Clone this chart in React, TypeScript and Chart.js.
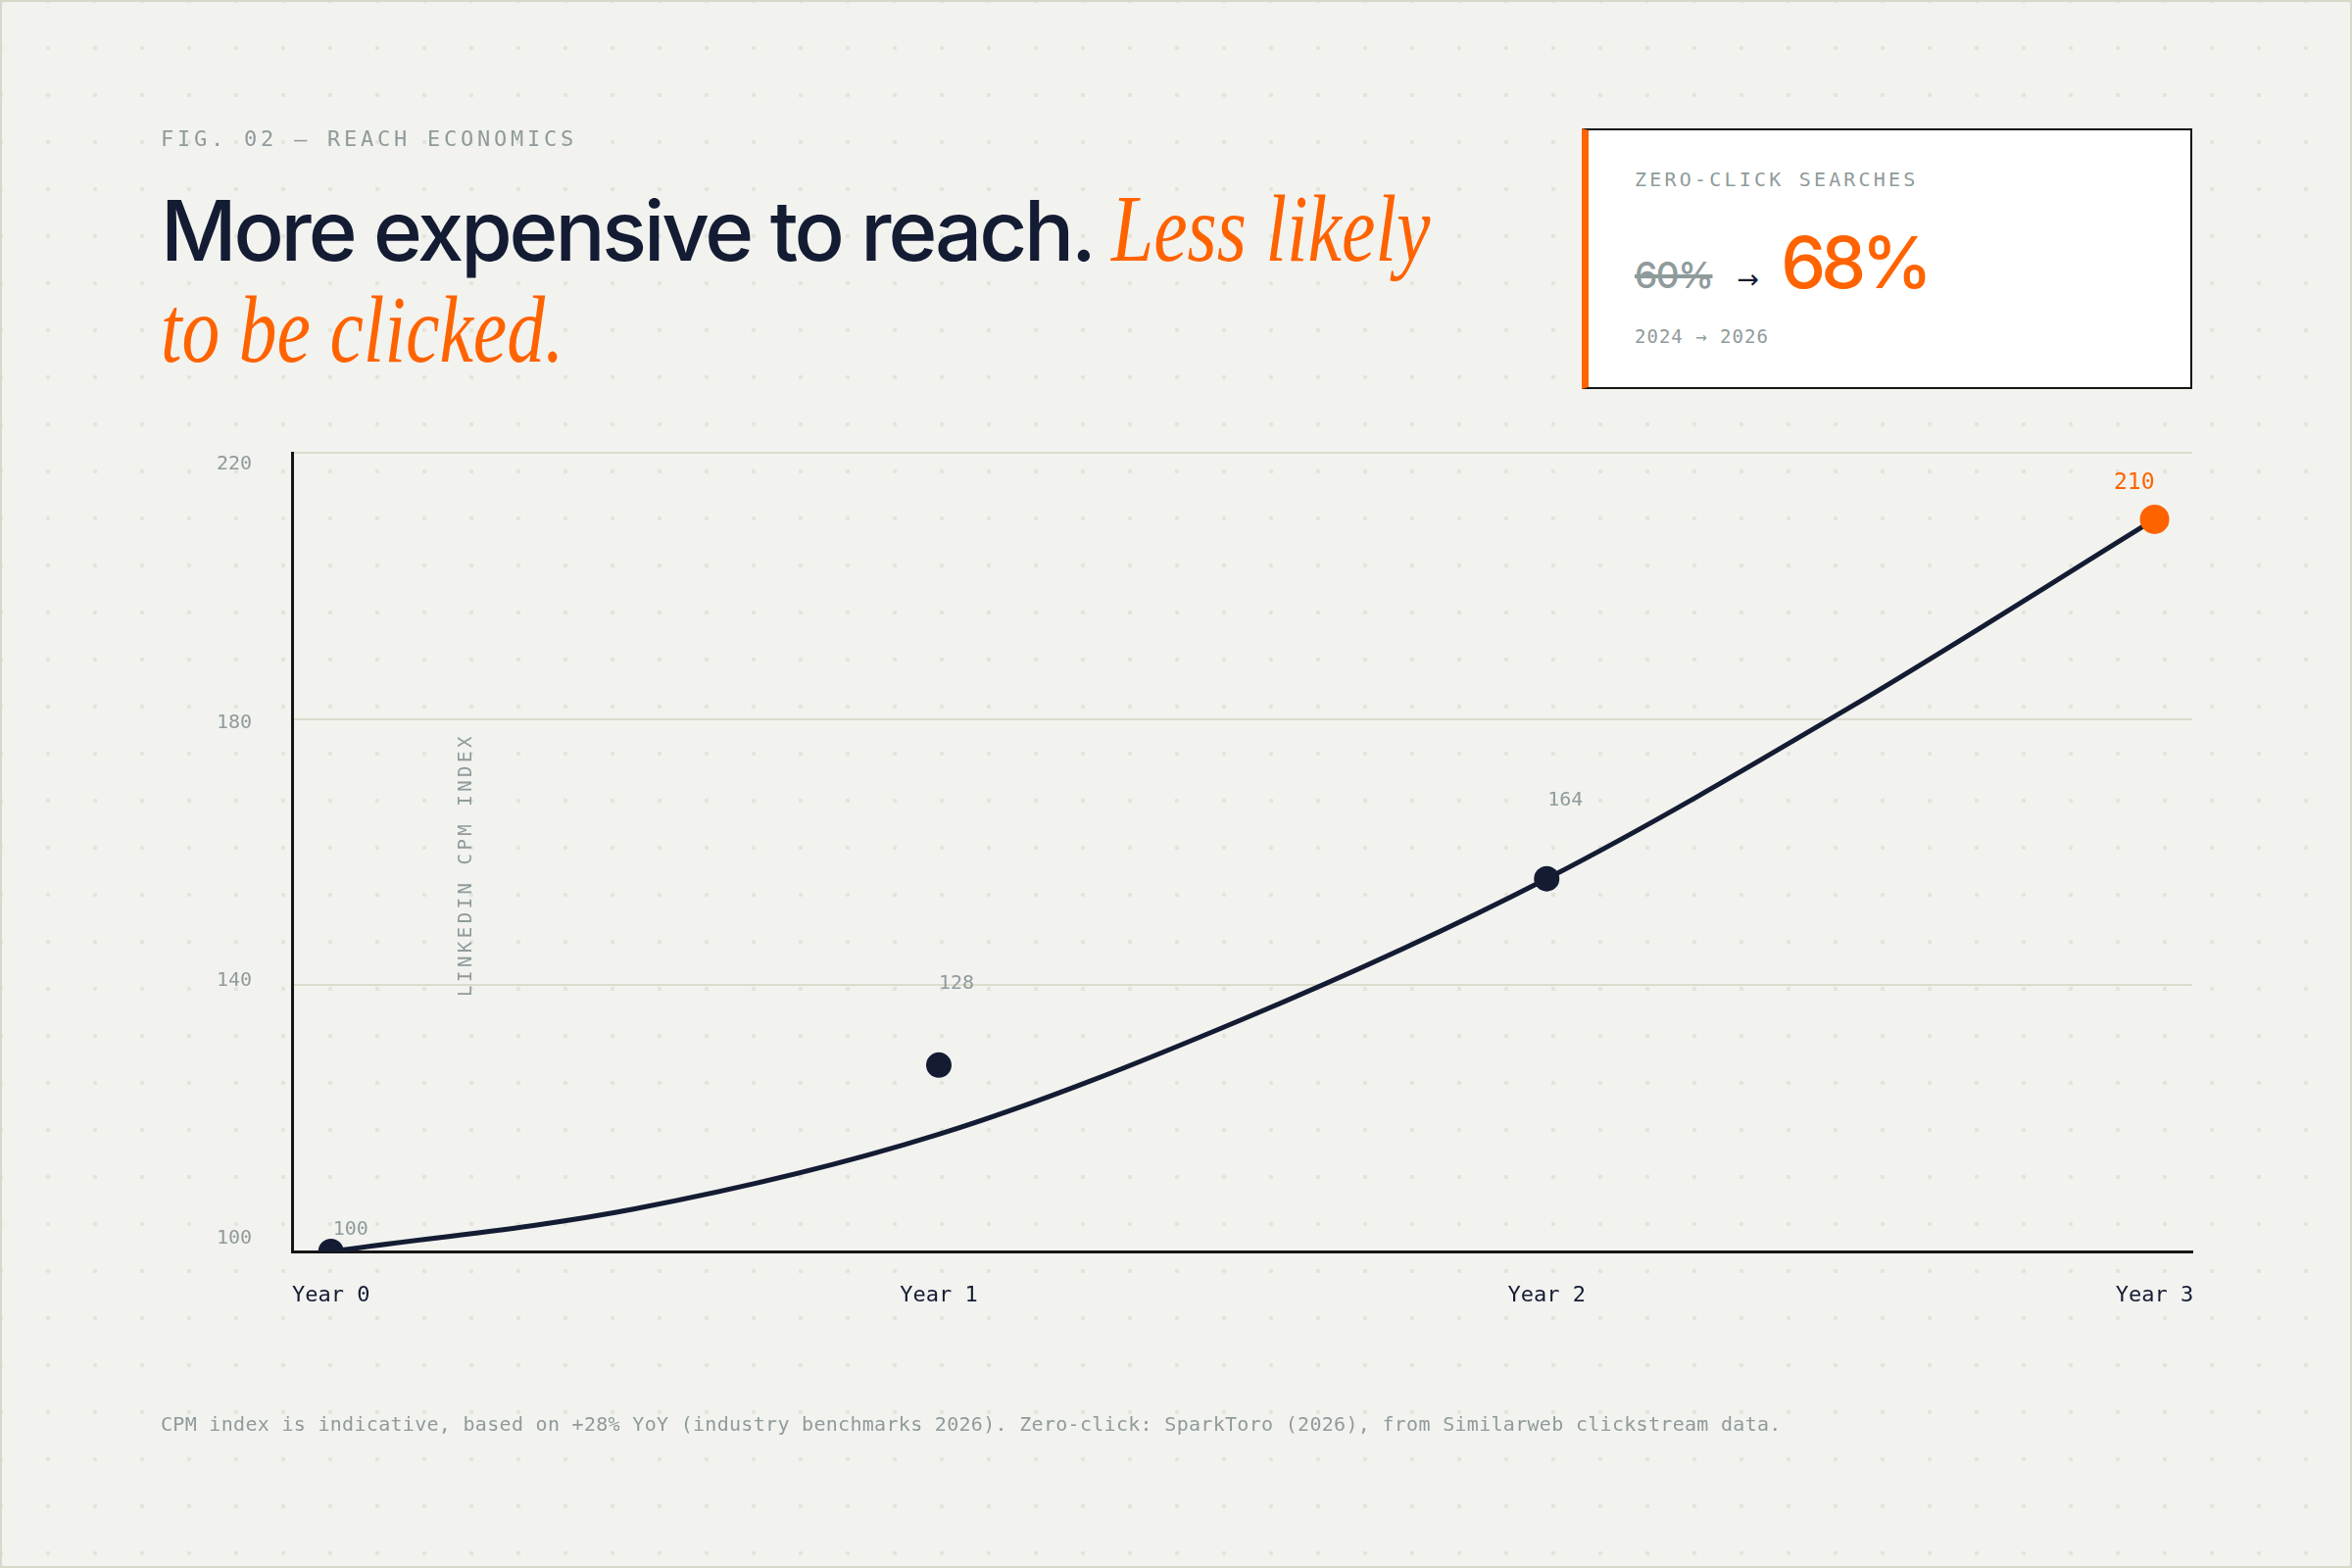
import React, { useEffect, useRef } from "react";
import { Chart, registerables } from "chart.js";

Chart.register(...registerables);

// ---- data ----
const categories = ["Year 0", "Year 1", "Year 2", "Year 3"];
const pointValues = [100, 128, 156, 210];
const pointLabels = ["100", "128", "164", "210"];
// line at half-year steps
const curveX = [0, 0.5, 1, 1.5, 2, 2.5, 3];
const curveValues = [100, 106.4, 117.6, 134.9, 156, 181.8, 210];
const yTicks = [100, 140, 180, 220];

// ---- style ----
const NAVY = "#141c33";
const ORANGE = "#ff6300";
const GRAY = "#8f9b9b";
const GRID = "#dcdccd";
const AXIS = "#161616";
const BG = "#f2f2ef";
const MONO = '"DejaVu Sans Mono", monospace';
const SANS = 'Inter, "Noto Sans", sans-serif';
const SERIF = '"Liberation Serif", serif';

const labelOffsets = [
  { dx: 2, dy: -22, align: "left" },
  { dx: 0, dy: -83, align: "left" },
  { dx: 1, dy: -80, align: "left" },
  { dx: 0, dy: -37, align: "right" },
];

const overlayPlugin = {
  id: "overlay",
  afterDatasetsDraw(chart: any) {
    const { ctx, chartArea } = chart;
    const meta = chart.getDatasetMeta(0);
    meta.data.forEach((pt: any, i: number) => {
      const o = labelOffsets[i];
      const last = i === pointLabels.length - 1;
      ctx.save();
      ctx.font = `400 ${last ? 23 : 20}px ${MONO}`;
      ctx.fillStyle = last ? ORANGE : GRAY;
      ctx.textAlign = o.align;
      ctx.textBaseline = "middle";
      ctx.fillText(pointLabels[i], pt.x + o.dx, pt.y + o.dy);
      ctx.restore();
    });
    ctx.save();
    ctx.translate(chartArea.left + 178, chartArea.bottom - 260);
    ctx.rotate(-Math.PI / 2);
    ctx.font = `400 19px ${MONO}`;
    (ctx as any).letterSpacing = "3.5px";
    ctx.fillStyle = GRAY;
    ctx.textAlign = "left";
    ctx.textBaseline = "middle";
    ctx.fillText("LINKEDIN CPM INDEX", 0, 0);
    ctx.restore();
  },
};

function CpmChart() {
  const ref = useRef<HTMLCanvasElement | null>(null);
  useEffect(() => {
    if (!ref.current) return;
    const chart = new Chart(ref.current, {
      type: "line",
      data: {
        datasets: [
          {
            label: "points",
            data: pointValues.map((v, i) => ({ x: i, y: v })),
            showLine: false,
            pointRadius: (c: any) => (c.dataIndex === pointValues.length - 1 ? 15 : 13),
            pointHoverRadius: (c: any) => (c.dataIndex === pointValues.length - 1 ? 15 : 13),
            pointBackgroundColor: (c: any) => (c.dataIndex === pointValues.length - 1 ? ORANGE : NAVY),
            pointBorderWidth: 0,
            borderWidth: 0,
          },
          {
            label: "curve",
            data: curveValues.map((v, i) => ({ x: curveX[i], y: v })),
            borderColor: NAVY,
            borderWidth: 5,
            pointRadius: 0,
            pointHoverRadius: 0,
            cubicInterpolationMode: "monotone",
            fill: false,
          },
        ],
      } as any,
      options: {
        animation: false,
        responsive: true,
        maintainAspectRatio: false,
        events: [],
        layout: { padding: { left: 198, top: 462, right: 163, bottom: 243 } },
        plugins: { legend: { display: false }, tooltip: { enabled: false }, title: { display: false } },
        scales: {
          x: {
            type: "linear",
            min: -0.064,
            max: 3.062,
            afterBuildTicks: (s: any) => {
              s.ticks = categories.map((_, i) => ({ value: i }));
            },
            afterFit: (s: any) => {
              s.height = 80;
            },
            ticks: {
              callback: (v: any) => categories[v] ?? "",
              color: NAVY,
              font: { family: MONO, size: 22 },
              padding: 32,
              maxRotation: 0,
              autoSkip: false,
            },
            grid: { display: false, drawTicks: false },
            border: { display: true, color: AXIS, width: 3 },
          },
          y: {
            type: "linear",
            position: "left",
            weight: 1,
            min: 100,
            max: 220,
            afterBuildTicks: (s: any) => {
              s.ticks = yTicks.map((v) => ({ value: v }));
            },
            afterFit: (s: any) => {
              s.width = 0;
            },
            ticks: { display: false },
            grid: {
              color: (c: any) => (c.tick && c.tick.value === yTicks[0] ? "rgba(0,0,0,0)" : GRID),
              lineWidth: 2,
              drawTicks: false,
            },
            border: { display: false },
          },
          y2: {
            type: "linear",
            position: "left",
            weight: 0,
            min: 98.03,
            max: 221.82,
            afterBuildTicks: (s: any) => {
              s.ticks = yTicks.map((v) => ({ value: v }));
            },
            afterFit: (s: any) => {
              s.width = 100;
            },
            ticks: { color: GRAY, font: { family: MONO, size: 20 }, padding: 41 },
            grid: { display: false, drawTicks: false },
            border: { display: true, color: AXIS, width: 3 },
          },
        },
      } as any,
      plugins: [overlayPlugin as any],
    });
    return () => chart.destroy();
  }, []);
  return (
    <div style={{ position: "absolute", left: 0, top: 0, width: 2400, height: 1600 }}>
      <canvas ref={ref} />
    </div>
  );
}

export default function App() {
  const serif: React.CSSProperties = {
    display: "inline-block",
    fontFamily: SERIF,
    fontStyle: "italic",
    fontWeight: 400,
    fontSize: 97,
    letterSpacing: 0,
    color: ORANGE,
    transform: "scaleX(0.8)",
    transformOrigin: "left",
  };
  return (
    <div
      style={{
        position: "absolute",
        left: 0,
        top: 0,
        width: 2400,
        height: 1600,
        overflow: "hidden",
        background: BG,
        backgroundImage: "radial-gradient(circle, #e4e4dd 2px, rgba(0,0,0,0) 2.6px)",
        backgroundSize: "48px 48px",
        backgroundPosition: "-23px -23px",
        fontFamily: SANS,
      }}
    >
      <CpmChart />
      <div
        style={{
          position: "absolute",
          left: 164,
          top: 131,
          fontFamily: MONO,
          fontSize: 22,
          lineHeight: "22px",
          letterSpacing: "3.75px",
          color: GRAY,
          whiteSpace: "nowrap",
        }}
      >
        FIG. 02 — REACH ECONOMICS
      </div>
      <div
        style={{
          position: "absolute",
          left: 164,
          top: 183,
          color: NAVY,
          fontFamily: SANS,
          fontWeight: 500,
          fontSize: 85,
          letterSpacing: "-0.037em",
          lineHeight: "101px",
          whiteSpace: "nowrap",
        }}
      >
        <div>
          More expensive to reach. <span style={serif}>Less likely</span>
        </div>
        <div>
          <span style={serif}>to be clicked.</span>
        </div>
      </div>
      <div
        style={{
          position: "absolute",
          left: 1614,
          top: 131,
          width: 623,
          height: 266,
          boxSizing: "border-box",
          background: "#ffffff",
          border: "2px solid #151515",
          borderLeft: `7px solid ${ORANGE}`,
        }}
      >
        <div
          style={{
            position: "absolute",
            left: 47,
            top: 40,
            fontFamily: MONO,
            fontSize: 20,
            lineHeight: "20px",
            letterSpacing: "3.2px",
            color: GRAY,
            whiteSpace: "nowrap",
          }}
        >
          ZERO-CLICK SEARCHES
        </div>
        <div
          style={{
            position: "absolute",
            left: 47,
            top: 95,
            display: "flex",
            alignItems: "baseline",
            lineHeight: "80px",
            whiteSpace: "nowrap",
          }}
        >
          <span
            style={{
              fontFamily: SANS,
              fontWeight: 500,
              fontSize: 37,
              color: GRAY,
              textDecoration: "line-through",
              textDecorationColor: GRAY,
              textDecorationThickness: "4px",
              letterSpacing: "-0.04em",
            }}
          >
            60%
          </span>
          <span
            style={{
              fontFamily: '"DejaVu Sans", sans-serif',
              fontSize: 27,
              color: NAVY,
              marginLeft: 25,
              marginRight: 22,
            }}
          >
            →
          </span>
          <span
            style={{
              fontFamily: SANS,
              fontWeight: 500,
              fontSize: 73,
              color: ORANGE,
              letterSpacing: "-0.065em",
            }}
          >
            68%
          </span>
        </div>
        <div
          style={{
            position: "absolute",
            left: 47,
            top: 201,
            fontFamily: MONO,
            fontSize: 19,
            lineHeight: "19px",
            letterSpacing: "1px",
            color: GRAY,
            whiteSpace: "nowrap",
          }}
        >
          2024 → 2026
        </div>
      </div>
      <div
        style={{
          position: "absolute",
          left: 164,
          top: 1443,
          fontFamily: MONO,
          fontSize: 20,
          lineHeight: "20px",
          letterSpacing: "0.3px",
          color: GRAY,
          whiteSpace: "nowrap",
        }}
      >
        CPM index is indicative, based on +28% YoY (industry benchmarks 2026). Zero-click: SparkToro (2026), from
        Similarweb clickstream data.
      </div>
      <div
        style={{
          position: "absolute",
          left: 0,
          top: 0,
          width: 2400,
          height: 1600,
          boxSizing: "border-box",
          border: "2px solid #d6d8c9",
          pointerEvents: "none",
        }}
      />
    </div>
  );
}
